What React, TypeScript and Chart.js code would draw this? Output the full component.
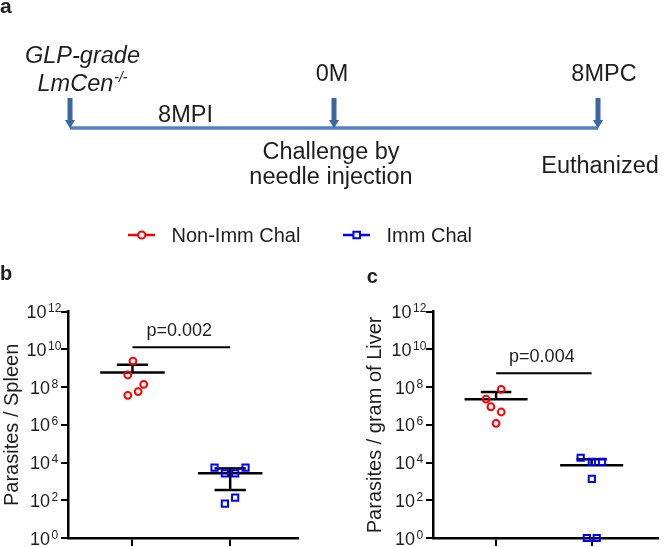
import React, { useEffect, useRef } from 'react';
import { Chart, registerables } from 'chart.js';

Chart.register(...registerables);

// ---------- data ----------
// timeline (months relative to challenge)
const timelineMonths = [-8, 0, 8];
const timelineTopLabels = ['GLP-grade|LmCen', '0M', '8MPC'];
const timelineBottomLabels = ['', 'Challenge by|needle injection', 'Euthanized'];
const periodLabel = '8MPI';
const periodMonth = -4.5;

const groups = ['Non-Imm Chal', 'Imm Chal'];
const yTickExponents = [0, 2, 4, 6, 8, 10, 12];

// b: parasites / spleen
const spleenNonImm = [2.4e9, 4.4e8, 1.4e8, 5.8e7, 3.7e7];
const spleenNonImmJitter = [0.005, -0.048, 0.115, 0.058, -0.048];
const spleenImm = [5.4e3, 2.7e3, 2.7e3, 5.4e3, 1.37e2, 6.6e1];
const spleenImmJitter = [-0.16, -0.054, 0.051, 0.157, 0.051, -0.054];
const spleenMean = [5.9e8, 2.7e3];
const spleenSemHigh = [1.55e9, 4.9e3];
const spleenSemLow: (number | null)[] = [null, 3.5e2];
const spleenP = 'p=0.002';
const spleenBracket = 1.3e10;

// c: parasites / gram of liver
const liverNonImm = [7.6e7, 2.3e7, 9.1e6, 4.8e6, 1.2e6];
const liverNonImmJitter = [0.054, -0.105, -0.054, 0.054, 0];
const liverImm = [1.8e4, 1.1e4, 1.1e4, 1.35e3, 1, 1];
const liverImmJitter = [-0.115, 0.002, 0.108, 0.002, -0.05, 0.053];
const liverMean = [2.3e7, 7.1e3];
const liverSemHigh = [5.5e7, 1.5e4];
const liverSemLow: (number | null)[] = [null, null];
const liverP = 'p=0.004';
const liverBracket = 5.4e8;

// ---------- styles ----------
const FONT = "'Liberation Sans', Arial, Helvetica, sans-serif";
const TEXT = '#1e1e1e';
const RED = '#ff0000';
const BLUE = '#0000ff';
const LINE_BLUE = '#4f81bd';
const ARROW_BLUE = '#3b67a5';

function drawLegend(ctx: CanvasRenderingContext2D) {
  const yL = 235;
  ctx.save();
  ctx.lineWidth = 2.5;
  // red
  ctx.strokeStyle = RED;
  ctx.beginPath(); ctx.moveTo(128, yL); ctx.lineTo(155, yL); ctx.stroke();
  ctx.lineWidth = 2;
  ctx.fillStyle = '#fff';
  ctx.beginPath(); ctx.arc(141.7, yL, 3.6, 0, Math.PI * 2); ctx.fill(); ctx.stroke();
  // blue
  ctx.strokeStyle = BLUE;
  ctx.lineWidth = 2.5;
  ctx.beginPath(); ctx.moveTo(343, yL); ctx.lineTo(370, yL); ctx.stroke();
  ctx.lineWidth = 2;
  ctx.beginPath(); ctx.rect(356.7 - 3.3, yL - 3.3, 6.6, 6.6); ctx.fill(); ctx.stroke();
  ctx.fillStyle = TEXT;
  ctx.font = `20px ${FONT}`;
  ctx.textAlign = 'left';
  ctx.textBaseline = 'alphabetic';
  ctx.fillText(groups[0], 171.5, 241.5);
  ctx.fillText(groups[1], 386.5, 241.5);
  ctx.restore();
}

const timelinePlugin = {
  id: 'timeline',
  afterDatasetsDraw(chart: any) {
    const { ctx } = chart;
    const x = chart.scales.x;
    const y = chart.scales.y;
    const yLine = y.getPixelForValue(0);
    const yTop = y.getPixelForValue(1);
    ctx.save();
    ctx.fillStyle = ARROW_BLUE;
    timelineMonths.forEach((m) => {
      const px = x.getPixelForValue(m);
      ctx.fillRect(px - 2.5, yTop, 5, yLine - yTop - 7);
      ctx.beginPath();
      ctx.moveTo(px - 5, yLine - 8);
      ctx.lineTo(px + 5, yLine - 8);
      ctx.lineTo(px, yLine + 0.5);
      ctx.closePath();
      ctx.fill();
    });

    ctx.fillStyle = TEXT;
    ctx.textBaseline = 'alphabetic';
    ctx.textAlign = 'center';
    const big = `23.5px ${FONT}`;
    const bigI = `italic 23.5px ${FONT}`;
    // panel letter
    ctx.font = `bold 21px ${FONT}`;
    ctx.textAlign = 'left';
    ctx.fillText('a', 0, 13);
    ctx.textAlign = 'center';

    // event 0: italic two lines
    const p0 = x.getPixelForValue(timelineMonths[0]) + 12.5;
    const [l1, l2] = timelineTopLabels[0].split('|');
    ctx.font = bigI;
    ctx.fillText(l1, p0, 62.7);
    const w2 = ctx.measureText(l2).width;
    ctx.font = `italic 14px ${FONT}`;
    const sup = '-/-';
    const ws = ctx.measureText(sup).width;
    const start = p0 - (w2 + ws + 1) / 2;
    ctx.textAlign = 'left';
    ctx.font = bigI;
    ctx.fillText(l2, start, 90.5);
    ctx.font = `italic 14px ${FONT}`;
    ctx.fillText(sup, start + w2 + 1, 81.5);
    ctx.textAlign = 'center';

    // event 1 & 2 top labels
    ctx.font = big;
    ctx.fillText(timelineTopLabels[1], x.getPixelForValue(timelineMonths[1]) - 2, 80.5);
    ctx.fillText(timelineTopLabels[2], x.getPixelForValue(timelineMonths[2]) + 6, 80.5);
    // bottom labels
    const b1 = timelineBottomLabels[1].split('|');
    const px1 = x.getPixelForValue(timelineMonths[1]) - 3;
    ctx.fillText(b1[0], px1, 159);
    ctx.fillText(b1[1], px1, 184);
    ctx.fillText(timelineBottomLabels[2], x.getPixelForValue(timelineMonths[2]) + 2, 173);
    // period label
    ctx.fillText(periodLabel, x.getPixelForValue(periodMonth), 121.7);
    ctx.restore();

    drawLegend(ctx);
  },
};

function timelineConfig(): any {
  return {
    type: 'line',
    data: {
      datasets: [
        {
          data: [
            { x: timelineMonths[0], y: 0 },
            { x: timelineMonths[timelineMonths.length - 1], y: 0 },
          ],
          borderColor: LINE_BLUE,
          borderWidth: 3.5,
          pointRadius: 0,
          clip: false,
        },
      ],
    },
    options: {
      responsive: false,
      animation: false,
      devicePixelRatio: 1,
      layout: { padding: { left: 70, right: 66, top: 98, bottom: 122 } },
      scales: {
        x: { type: 'linear', min: -8, max: 8, display: false },
        y: { type: 'linear', min: 0, max: 1, display: false },
      },
      plugins: { legend: { display: false }, tooltip: { enabled: false } },
    },
    plugins: [timelinePlugin],
  };
}

interface StatOpts {
  letter: string;
  letterX: number;
  letterY: number;
  yTitle: string;
  nonImm: number[];
  nonImmJ: number[];
  imm: number[];
  immJ: number[];
  mean: number[];
  hi: number[];
  lo: (number | null)[];
  pText: string;
  bracket: number;
  padLeft: number;
  padRight: number;
  yWidth: number;
}

function statConfig(o: StatOpts): any {
  const line = (ctx: CanvasRenderingContext2D, x0: number, y0: number, x1: number, y1: number) => {
    ctx.beginPath();
    ctx.moveTo(x0, y0);
    ctx.lineTo(x1, y1);
    ctx.stroke();
  };
  const statPlugin = {
    id: 'stat',
    beforeDatasetsDraw(chart: any) {
      const { ctx } = chart;
      const x = chart.scales.x;
      const y = chart.scales.y;
      ctx.save();
      ctx.strokeStyle = '#000';
      ctx.lineWidth = 2.5;
      o.mean.forEach((m, i) => {
        const g = i + 1;
        const ym = y.getPixelForValue(m);
        const xc = x.getPixelForValue(g);
        line(ctx, x.getPixelForValue(g - 0.33), ym, x.getPixelForValue(g + 0.33), ym);
        [o.hi[i], o.lo[i]].forEach((v) => {
          if (v == null) return;
          const yv = y.getPixelForValue(v);
          line(ctx, xc, ym, xc, yv);
          line(ctx, x.getPixelForValue(g - 0.16), yv, x.getPixelForValue(g + 0.16), yv);
        });
      });
      ctx.restore();
    },
    afterDraw(chart: any) {
      const { ctx } = chart;
      const x = chart.scales.x;
      const y = chart.scales.y;
      const ax = chart.chartArea.left;
      ctx.save();
      ctx.fillStyle = TEXT;
      ctx.textBaseline = 'alphabetic';
      ctx.textAlign = 'left';
      y.ticks.forEach((t: any) => {
        const py = y.getPixelForValue(t.value);
        const exp = String(Math.round(Math.log10(t.value)));
        ctx.font = `18px ${FONT}`;
        const w1 = ctx.measureText('10').width;
        ctx.font = `12px ${FONT}`;
        const w2 = ctx.measureText(exp).width;
        const gap = 1.5;
        const x0 = ax - 24 - (w1 + gap + w2) / 2;
        ctx.font = `18px ${FONT}`;
        ctx.fillText('10', x0, py + 6.5);
        ctx.font = `12px ${FONT}`;
        ctx.fillText(exp, x0 + w1 + gap, py + 0.5);
      });
      // significance bracket
      ctx.strokeStyle = '#000';
      ctx.lineWidth = 2;
      const yb = y.getPixelForValue(o.bracket);
      line(ctx, x.getPixelForValue(1), yb, x.getPixelForValue(2), yb);
      ctx.font = `18px ${FONT}`;
      ctx.textAlign = 'center';
      ctx.fillText(o.pText, x.getPixelForValue(1.5) - 2, yb - 11.5);
      // panel letter
      ctx.font = `bold 20px ${FONT}`;
      ctx.textAlign = 'left';
      ctx.fillText(o.letter, o.letterX, o.letterY);
      ctx.restore();
    },
  };

  return {
    type: 'scatter',
    data: {
      datasets: [
        {
          label: groups[0],
          data: o.nonImm.map((v, i) => ({ x: 1 + o.nonImmJ[i], y: v })),
          pointStyle: 'circle',
          pointRadius: 3.4,
          pointHoverRadius: 3.4,
          pointBorderWidth: 2,
          pointBorderColor: RED,
          pointBackgroundColor: 'rgba(0,0,0,0)',
          clip: false,
        },
        {
          label: groups[1],
          data: o.imm.map((v, i) => ({ x: 2 + o.immJ[i], y: v })),
          pointStyle: 'rect',
          pointRadius: 4.4,
          pointHoverRadius: 4.4,
          pointBorderWidth: 2,
          pointBorderColor: BLUE,
          pointBackgroundColor: 'rgba(0,0,0,0)',
          clip: false,
        },
      ],
    },
    options: {
      responsive: false,
      animation: false,
      devicePixelRatio: 1,
      layout: { padding: { left: o.padLeft, right: o.padRight, top: 61.7, bottom: 0 } },
      plugins: { legend: { display: false }, tooltip: { enabled: false } },
      scales: {
        x: {
          type: 'linear',
          min: 0.34,
          max: 2.69,
          afterBuildTicks: (s: any) => {
            s.ticks = [{ value: 1 }, { value: 2 }];
          },
          afterFit: (s: any) => {
            s.height = 9;
          },
          grid: { display: true, drawOnChartArea: false, drawTicks: true, tickLength: 8, color: '#000', lineWidth: 2 },
          border: { display: true, color: '#000', width: 2.5 },
          ticks: { display: false },
        },
        y: {
          type: 'logarithmic',
          min: 1,
          max: 1e12,
          afterBuildTicks: (s: any) => {
            s.ticks = yTickExponents.map((e) => ({ value: Math.pow(10, e) }));
          },
          afterFit: (s: any) => {
            s.width = o.yWidth;
          },
          grid: { display: true, drawOnChartArea: false, drawTicks: true, tickLength: 7, color: '#000', lineWidth: 2 },
          border: { display: true, color: '#000', width: 2.5 },
          ticks: { display: false },
          title: {
            display: true,
            text: o.yTitle,
            color: TEXT,
            font: { family: FONT, size: 20 },
            padding: { top: 0, bottom: 0 },
          },
        },
      },
    },
    plugins: [statPlugin],
  };
}

export default function App() {
  const aRef = useRef<HTMLCanvasElement>(null);
  const bRef = useRef<HTMLCanvasElement>(null);
  const cRef = useRef<HTMLCanvasElement>(null);

  useEffect(() => {
    const charts = [
      new Chart(aRef.current as HTMLCanvasElement, timelineConfig()),
      new Chart(
        bRef.current as HTMLCanvasElement,
        statConfig({
          letter: 'b',
          letterX: 0,
          letterY: 30,
          yTitle: 'Parasites / Spleen',
          nonImm: spleenNonImm,
          nonImmJ: spleenNonImmJitter,
          imm: spleenImm,
          immJ: spleenImmJitter,
          mean: spleenMean,
          hi: spleenSemHigh,
          lo: spleenSemLow,
          pText: spleenP,
          bracket: spleenBracket,
          padLeft: 0,
          padRight: 34.4,
          yWidth: 68,
        })
      ),
      new Chart(
        cRef.current as HTMLCanvasElement,
        statConfig({
          letter: 'c',
          letterX: 34.7,
          letterY: 32.7,
          yTitle: 'Parasites / gram of Liver',
          nonImm: liverNonImm,
          nonImmJ: liverNonImmJitter,
          imm: liverImm,
          immJ: liverImmJitter,
          mean: liverMean,
          hi: liverSemHigh,
          lo: liverSemLow,
          pText: liverP,
          bracket: liverBracket,
          padLeft: 31,
          padRight: 1.4,
          yWidth: 70,
        })
      ),
    ];
    return () => charts.forEach((c) => c.destroy());
  }, []);

  return (
    <div
      style={{
        position: 'fixed',
        left: 0,
        top: 0,
        width: 664,
        height: 547,
        background: '#fff',
        overflow: 'hidden',
      }}
    >
      <canvas ref={aRef} width={664} height={250} style={{ position: 'absolute', left: 0, top: 0 }} />
      <canvas ref={bRef} width={332} height={297} style={{ position: 'absolute', left: 0, top: 250 }} />
      <canvas ref={cRef} width={332} height={297} style={{ position: 'absolute', left: 332, top: 250 }} />
    </div>
  );
}
